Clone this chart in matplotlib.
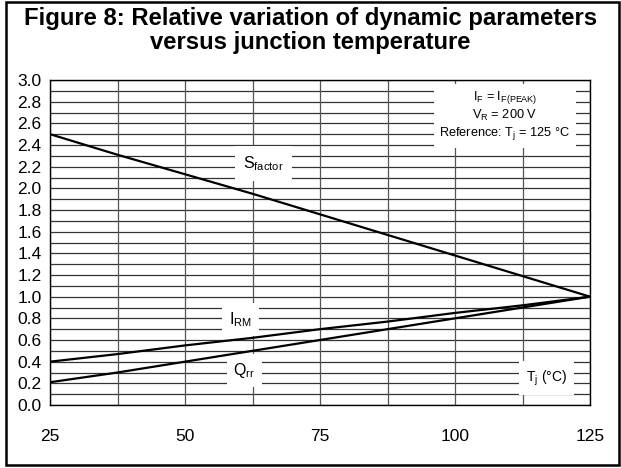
# figure 8 - relative variation of dynamic parameters

from matplotlib import pyplot as plt
from matplotlib.patches import Rectangle
import numpy as np

plt.rcParams['font.family'] = ['Liberation Sans', 'DejaVu Sans']
plt.rcParams['mathtext.default'] = 'regular'

# dane
tj = [25, 37.5, 50, 62.5, 75, 87.5, 100, 112.5, 125]
s_factor = [2.50, 2.31, 2.13, 1.95, 1.76, 1.57, 1.38, 1.19, 1.00]
i_rm = [0.40, 0.47, 0.55, 0.62, 0.70, 0.77, 0.85, 0.92, 1.00]
q_rr = [0.21, 0.30, 0.40, 0.50, 0.60, 0.70, 0.80, 0.90, 1.00]

x_ticks = [25, 50, 75, 100, 125]
y_ticks = np.arange(0, 3.01, 0.2)

fig = plt.figure(figsize=(6.21, 4.68), dpi=100)
ax = fig.add_axes([50/621, 1-405/468, 540/621, 325/468])

# siatka
for y in np.arange(0, 3.01, 0.1):
    ax.axhline(y, color='#333333', linewidth=0.9, zorder=1)
for x in np.arange(25, 125.1, 12.5):
    ax.axvline(x, color='#555555', linewidth=0.9, zorder=1)

# krzywe
ax.plot(tj, s_factor, color='black', linewidth=1.6, zorder=4)
ax.plot(tj, i_rm, color='black', linewidth=1.6, zorder=4)
ax.plot(tj, q_rr, color='black', linewidth=1.6, zorder=4)

# opisy krzywych
ax.text(64.5, 2.23, '$S_{factor}$', fontsize=11.5, ha='center', va='center',
        bbox=dict(facecolor='white', edgecolor='none', pad=6), zorder=3)
ax.text(60.3, 0.79, '$I_{RM}$', fontsize=11.5, ha='center', va='center',
        bbox=dict(facecolor='white', edgecolor='none', pad=5), zorder=3)
ax.text(61, 0.32, '$Q_{rr}$', fontsize=11.5, ha='center', va='center',
        bbox=dict(facecolor='white', edgecolor='none', pad=5), zorder=3)
ax.text(117, 0.25, '$T_j$ (°C)', fontsize=10, ha='center', va='center',
        bbox=dict(facecolor='white', edgecolor='none', pad=5), zorder=3)
ax.text(109.2, 2.67,
        '$I_F$ = $I_{F(PEAK)}$\n$V_R$ = 200 V\nReference: $T_j$ = 125 °C',
        fontsize=9.2, ha='center', va='center', linespacing=1.2,
        bbox=dict(facecolor='white', edgecolor='none', pad=4), zorder=3)

# osie
ax.set_xlim(25, 125)
ax.set_ylim(0, 3)
ax.set_xticks(x_ticks)
ax.set_yticks(y_ticks)
ax.set_yticklabels([f'{v:.1f}' for v in y_ticks])
ax.tick_params(length=0, labelsize=12.5)
ax.tick_params(axis='y', pad=6)
ax.tick_params(axis='x', pad=17)
for s in ax.spines.values():
    s.set_color('black')
    s.set_linewidth(1.0)

# tytul
fig.text(0.5, 1-19/468, 'Figure 8: Relative variation of dynamic parameters',
         fontsize=17.2, fontweight='bold', ha='center', va='center')
fig.text(0.5, 1-43/468, 'versus junction temperature',
         fontsize=17.2, fontweight='bold', ha='center', va='center')

# ramka
fig.patches.append(Rectangle((6/621, 3/468), 613/621, 463/468, transform=fig.transFigure,
                             fill=False, edgecolor='black', linewidth=1.8))

fig.savefig('out.png', dpi=100)
